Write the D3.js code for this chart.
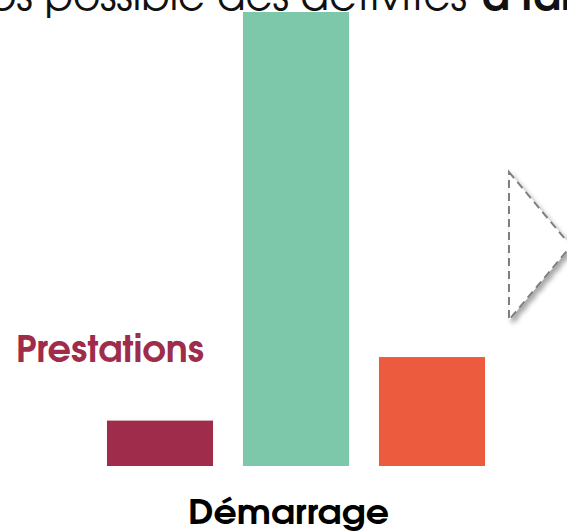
<!DOCTYPE html>
<html>
<head>
<meta charset="utf-8">
<script src="https://cdn.jsdelivr.net/npm/d3@7"></script>
<style>
  html, body { margin: 0; padding: 0; background: #fff; overflow: hidden; }
  svg { display: block; }
  .gothic { font-family: "Century Gothic", "URW Gothic L", "URW Gothic", "TeX Gyre Adventor", Lato, sans-serif; }
</style>
</head>
<body>
<svg id="chart" width="567" height="531"></svg>
<script>
// bar values (tallest bar = 100)
var categories = ["Prestations", "Milieu", "Fin"]
var values = [10, 100, 24]
var colors = ["#9e2c4a", "#7dc7ab", "#ec5b3d"]
var groupLabel = "Démarrage"
var seriesLabel = "Prestations"
var headline = ["ps possible des activités", "à faire"]

var svg = d3.select("#chart")

var defs = svg.append("defs")
var shadow = defs.append("filter")
    .attr("id", "shadow")
    .attr("x", "-30%").attr("y", "-20%")
    .attr("width", "160%").attr("height", "140%")
shadow.append("feDropShadow")
    .attr("dx", 3).attr("dy", 4)
    .attr("stdDeviation", 2.5)
    .attr("flood-color", "#000")
    .attr("flood-opacity", 0.35)

var x = d3.scaleBand()
    .domain(categories)
    .range([92, 500])
    .paddingInner(0.22)
    .paddingOuter(0.11)

var y = d3.scaleLinear()
    .domain([0, 100])
    .range([466, 12])

// headline text, cut off at the top of the picture
var head = svg.append("text")
    .attr("class", "gothic")
    .attr("y", 10)
    .style("font-size", "42px")
    .attr("fill", "#111")
head.append("tspan")
    .attr("x", -12)
    .attr("textLength", 479)
    .attr("lengthAdjust", "spacingAndGlyphs")
    .text(headline[0])
head.append("tspan")
    .attr("x", 482)
    .attr("font-weight", "bold")
    .text(headline[1])

// bars
svg.selectAll(".bar")
    .data(values)
    .enter()
    .append("rect")
    .attr("class", "bar")
    .attr("x", function(d, i) { return x(categories[i]) })
    .attr("width", x.bandwidth())
    .attr("y", function(d) { return y(d) })
    .attr("height", function(d) { return y(0) - y(d) })
    .attr("fill", function(d, i) { return colors[i] })

// series label
svg.append("text")
    .attr("class", "gothic")
    .attr("x", 16)
    .attr("y", 362)
    .attr("textLength", 188)
    .attr("lengthAdjust", "spacingAndGlyphs")
    .attr("font-weight", "bold")
    .style("font-size", "37px")
    .attr("fill", colors[0])
    .text(seriesLabel)

// group label under the bars
svg.append("text")
    .attr("class", "gothic")
    .attr("x", 288.5)
    .attr("y", 524)
    .attr("text-anchor", "middle")
    .attr("textLength", 201)
    .attr("lengthAdjust", "spacingAndGlyphs")
    .attr("font-weight", "bold")
    .style("font-size", "34px")
    .attr("fill", "#000")
    .text(groupLabel)

// dashed arrow head on the right
svg.append("path")
    .attr("d", d3.line()([[509, 172], [571, 246], [509, 320]]) + "Z")
    .attr("fill", "#fff")
    .attr("stroke", "#7f7f7f")
    .attr("stroke-width", 2)
    .attr("stroke-dasharray", "8,5")
    .attr("filter", "url(#shadow)")
</script>
</body>
</html>
